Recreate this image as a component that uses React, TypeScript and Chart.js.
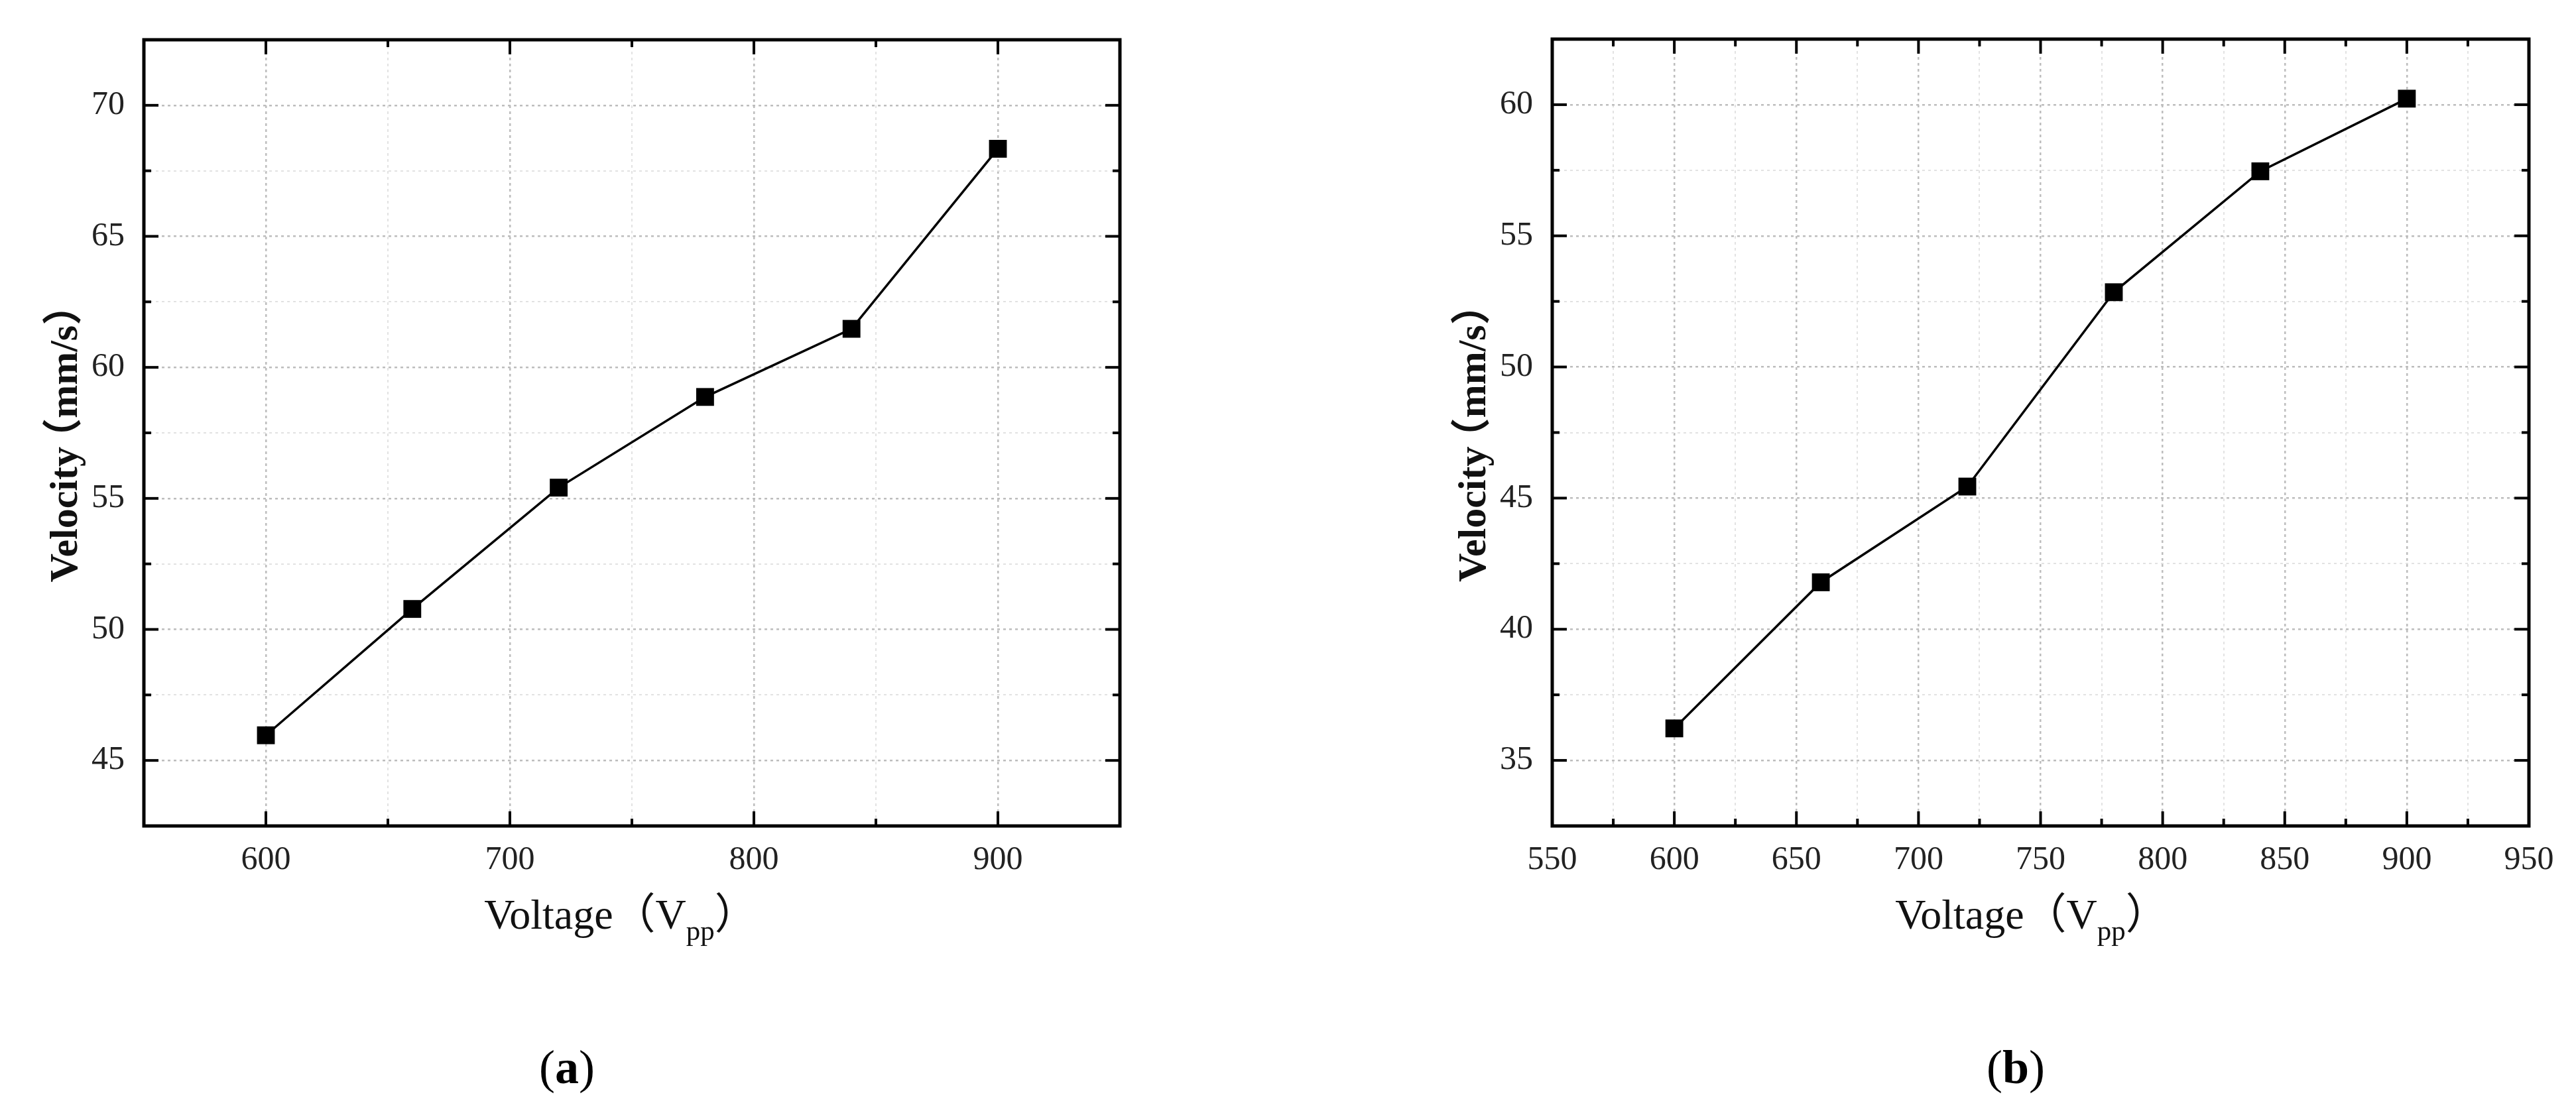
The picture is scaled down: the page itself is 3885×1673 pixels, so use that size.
import React, { useEffect, useRef } from 'react';
import { Chart, registerables } from 'chart.js';

Chart.register(...registerables);

// ---- data ----
const voltages = [600, 660, 720, 780, 840, 900];
const velocityA = [45.96, 50.78, 55.41, 58.87, 61.47, 68.34];
const velocityB = [36.22, 41.79, 45.44, 52.85, 57.46, 60.23];

const xLabelsA = [600, 700, 800, 900];
const yLabelsA = [45, 50, 55, 60, 65, 70];
const xLabelsB = [550, 600, 650, 700, 750, 800, 850, 900, 950];
const yLabelsB = [35, 40, 45, 50, 55, 60];

const xTitle = 'Voltage（V';
const xTitleSub = 'pp';
const xTitleEnd = '）';
const yTitleParts = ['Velocity', '（', 'mm/s', '）'];

const W = 3885;
const H = 1673;
const SERIF = "'Liberation Serif', 'Times New Roman', 'Noto Sans CJK SC', serif";

const has = (arr: number[], v: number) => arr.some((a) => Math.abs(a - v) < 1e-6);

const framePlugin = {
  id: 'frame',
  afterDraw(chart: any, _args: any, cfg: any) {
    const { ctx, chartArea: a, scales } = chart;
    const x = scales.x;
    const y = scales.y;
    ctx.save();
    ctx.strokeStyle = '#000';
    ctx.lineCap = 'butt';
    const line = (x1: number, y1: number, x2: number, y2: number) => {
      ctx.beginPath();
      ctx.moveTo(x1, y1);
      ctx.lineTo(x2, y2);
      ctx.stroke();
    };
    ctx.lineWidth = 4;
    x.ticks.forEach((t: any) => {
      const v = t.value;
      if (v <= x.min + 1e-6 || v >= x.max - 1e-6) return;
      const px = x.getPixelForValue(v);
      const len = has(cfg.xLabels, v) ? 22 : 11;
      line(px, a.bottom, px, a.bottom - len);
      line(px, a.top, px, a.top + len);
    });
    y.ticks.forEach((t: any) => {
      const v = t.value;
      if (v <= y.min + 1e-6 || v >= y.max - 1e-6) return;
      const py = y.getPixelForValue(v);
      const len = has(cfg.yLabels, v) ? 22 : 11;
      line(a.left, py, a.left + len, py);
      line(a.right, py, a.right - len, py);
    });
    ctx.lineWidth = 5;
    ctx.strokeRect(a.left, a.top, a.right - a.left, a.bottom - a.top);

    // x title with subscript
    ctx.fillStyle = '#111';
    ctx.textBaseline = 'alphabetic';
    ctx.textAlign = 'left';
    const mainFont = `64px ${SERIF}`;
    const subFont = `43px ${SERIF}`;
    ctx.font = mainFont;
    const w1 = ctx.measureText(xTitle).width;
    const w3 = ctx.measureText(xTitleEnd).width;
    ctx.font = subFont;
    const w2 = ctx.measureText(xTitleSub).width;
    const total = w1 + w2 + w3;
    let sx = cfg.xTitleCenter - total / 2;
    const by = 1401;
    ctx.font = mainFont;
    ctx.fillText(xTitle, sx, by);
    sx += w1;
    ctx.font = subFont;
    ctx.fillText(xTitleSub, sx, by + 17);
    sx += w2;
    ctx.font = mainFont;
    ctx.fillText(xTitleEnd, sx, by);

    // y title (rotated), parens drawn with slightly tightened advance
    ctx.save();
    ctx.translate(a.left - 101, (a.top + a.bottom) / 2 + 10);
    ctx.rotate(-Math.PI / 2);
    ctx.textAlign = 'left';
    ctx.font = `bold 60px ${SERIF}`;
    const [pV, pL, pM, pR] = yTitleParts;
    const wV = ctx.measureText(pV).width;
    const wP = ctx.measureText(pL).width;
    const wM = ctx.measureText(pM).width;
    const adv = 0.72;
    const tot = wV + wP * adv * 2 + wM;
    let tx = -tot / 2;
    ctx.fillText(pV, tx, 0);
    tx += wV;
    ctx.fillText(pL, tx - wP * (1 - adv), 0);
    tx += wP * adv;
    ctx.fillText(pM, tx, 0);
    tx += wM;
    ctx.fillText(pR, tx, 0);
    ctx.restore();

    // panel label
    ctx.textAlign = 'left';
    ctx.font = `72px ${SERIF}`;
    const pw = ctx.measureText('(').width;
    const cw = ctx.measureText(')').width;
    ctx.font = `bold 72px ${SERIF}`;
    const lw = ctx.measureText(cfg.panelLabel).width;
    let lx = cfg.panelLabelCenter - (pw + lw + cw) / 2;
    const ly = 1634;
    ctx.fillStyle = '#000';
    ctx.font = `72px ${SERIF}`;
    ctx.fillText('(', lx, ly);
    lx += pw;
    ctx.font = `bold 72px ${SERIF}`;
    ctx.fillText(cfg.panelLabel, lx, ly);
    lx += lw;
    ctx.font = `72px ${SERIF}`;
    ctx.fillText(')', lx, ly);
    ctx.restore();
  },
};

type PanelCfg = {
  canvasLeft: number;
  canvasWidth: number;
  plotLeft: number;
  plotRight: number;
  plotTop: number;
  plotBottom: number;
  xMin: number;
  xMax: number;
  xStep: number;
  yMin: number;
  yMax: number;
  yStep: number;
  xLabels: number[];
  yLabels: number[];
  values: number[];
  xTitleCenter: number;
  panelLabel: string;
  panelLabelCenter: number;
};

const panels: PanelCfg[] = [
  {
    canvasLeft: 0,
    canvasWidth: 1942,
    plotLeft: 217,
    plotRight: 1689,
    plotTop: 60,
    plotBottom: 1246,
    xMin: 550,
    xMax: 950,
    xStep: 50,
    yMin: 42.5,
    yMax: 72.5,
    yStep: 2.5,
    xLabels: xLabelsA,
    yLabels: yLabelsA,
    values: velocityA,
    xTitleCenter: 936,
    panelLabel: 'a',
    panelLabelCenter: 855,
  },
  {
    canvasLeft: 1942,
    canvasWidth: 1943,
    plotLeft: 2341,
    plotRight: 3814,
    plotTop: 59,
    plotBottom: 1246,
    xMin: 550,
    xMax: 950,
    xStep: 25,
    yMin: 32.5,
    yMax: 62.5,
    yStep: 2.5,
    xLabels: xLabelsB,
    yLabels: yLabelsB,
    values: velocityB,
    xTitleCenter: 3064,
    panelLabel: 'b',
    panelLabelCenter: 3040,
  },
];

function Panel({ cfg }: { cfg: PanelCfg }) {
  const ref = useRef<HTMLCanvasElement>(null);
  useEffect(() => {
    if (!ref.current) return;
    const off = cfg.canvasLeft;
    const local = {
      ...cfg,
      xTitleCenter: cfg.xTitleCenter - off,
      panelLabelCenter: cfg.panelLabelCenter - off,
    };
    const yWidth = cfg.plotLeft - off;
    const padRight = cfg.canvasWidth - (cfg.plotRight - off);
    const xHeight = H - cfg.plotBottom;
    const gridColor = (labels: number[]) => (c: any) => {
      const v = c.tick ? c.tick.value : NaN;
      return has(labels, v) ? '#bdbdbd' : '#e2e2e2';
    };
    const gridWidth = (labels: number[]) => (c: any) => {
      const v = c.tick ? c.tick.value : NaN;
      return has(labels, v) ? 2.5 : 2;
    };
    const chart = new Chart(ref.current, {
      type: 'line',
      data: {
        datasets: [
          {
            data: voltages.map((v, i) => ({ x: v, y: cfg.values[i] })),
            borderColor: '#000',
            backgroundColor: '#000',
            borderWidth: 3.5,
            pointStyle: 'rect',
            pointRadius: 19,
            pointBackgroundColor: '#000',
            pointBorderWidth: 0,
            tension: 0,
            clip: false as any,
          },
        ],
      },
      options: {
        responsive: false,
        animation: false,
        devicePixelRatio: 1,
        layout: { padding: { left: 0, right: padRight, top: cfg.plotTop, bottom: 0 } },
        plugins: {
          legend: { display: false },
          tooltip: { enabled: false },
          frame: local,
        } as any,
        scales: {
          x: {
            type: 'linear',
            min: cfg.xMin,
            max: cfg.xMax,
            afterFit: (s: any) => {
              s.height = xHeight;
            },
            ticks: {
              stepSize: cfg.xStep,
              autoSkip: false,
              maxRotation: 0,
              padding: 22,
              color: '#222',
              font: { family: SERIF, size: 50 },
              callback: (v: any) => (has(cfg.xLabels, Number(v)) ? String(v) : ''),
            },
            grid: {
              drawTicks: false,
              color: gridColor(cfg.xLabels),
              lineWidth: gridWidth(cfg.xLabels),
            },
            border: { display: false, dash: [4, 5] },
          },
          y: {
            type: 'linear',
            min: cfg.yMin,
            max: cfg.yMax,
            afterFit: (s: any) => {
              s.width = yWidth;
            },
            ticks: {
              stepSize: cfg.yStep,
              autoSkip: false,
              padding: 29,
              color: '#222',
              font: { family: SERIF, size: 50 },
              callback: (v: any) => (has(cfg.yLabels, Number(v)) ? String(v) : ''),
            },
            grid: {
              drawTicks: false,
              color: gridColor(cfg.yLabels),
              lineWidth: gridWidth(cfg.yLabels),
            },
            border: { display: false, dash: [4, 5] },
          },
        },
      } as any,
      plugins: [framePlugin as any],
    });
    return () => chart.destroy();
  }, [cfg]);
  return (
    <canvas
      ref={ref}
      width={cfg.canvasWidth}
      height={H}
      style={{ position: 'absolute', left: cfg.canvasLeft, top: 0, width: cfg.canvasWidth, height: H }}
    />
  );
}

export default function App() {
  return (
    <div style={{ position: 'fixed', left: 0, top: 0, width: W, height: H, background: '#fff', overflow: 'hidden' }}>
      {panels.map((p, i) => (
        <Panel key={i} cfg={p} />
      ))}
    </div>
  );
}
